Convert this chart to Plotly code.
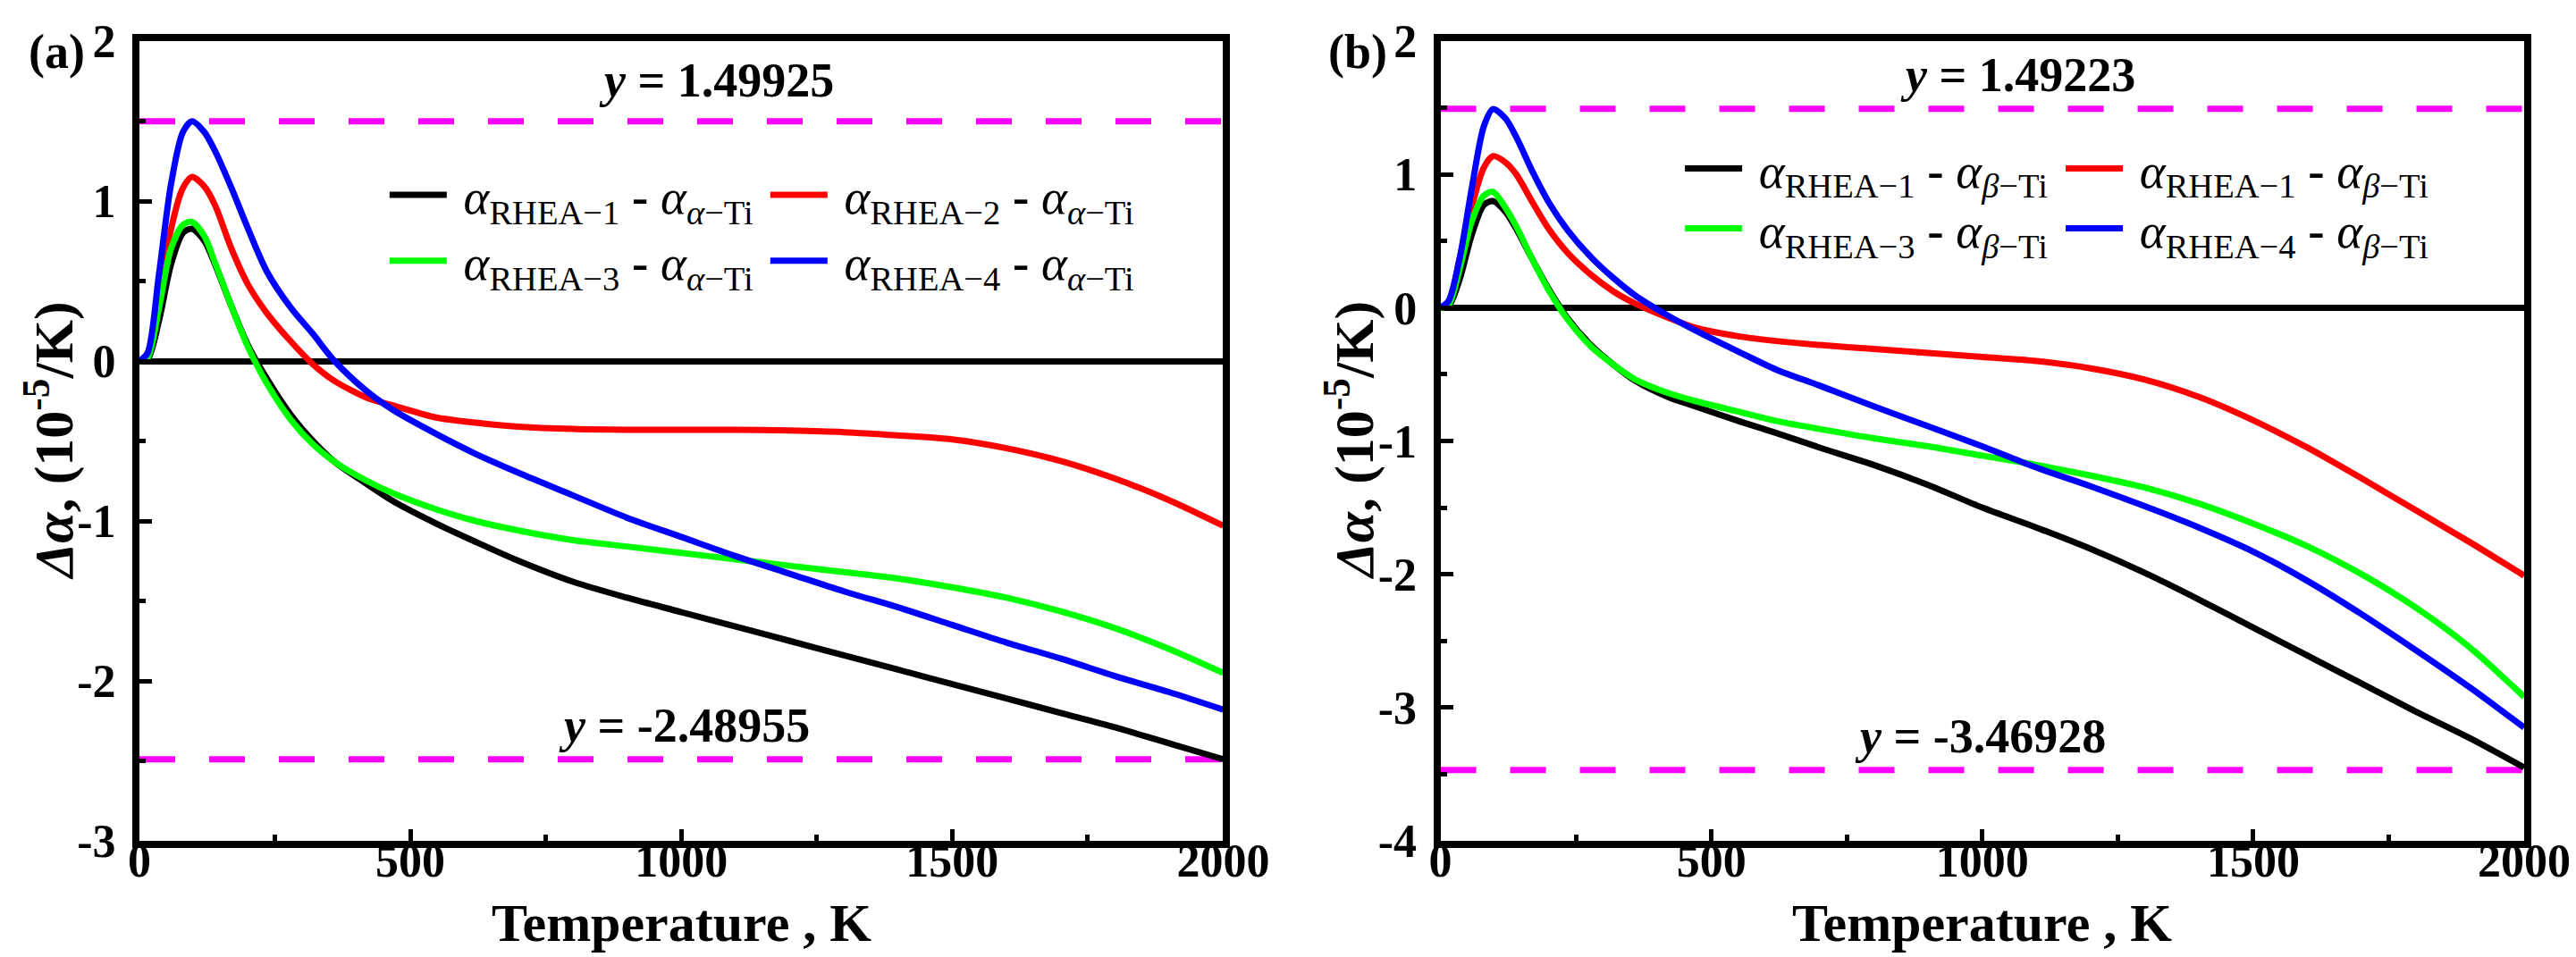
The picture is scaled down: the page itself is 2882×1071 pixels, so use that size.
import plotly.graph_objects as go
from plotly.subplots import make_subplots

# --- data ---
temps = [0, 15, 36, 58, 80, 97, 120, 140, 170, 200, 235, 280, 320, 360, 420, 470,
         550, 620, 700, 800, 900, 1000, 1100, 1200, 1300, 1400, 1500, 1600, 1700, 1800, 1900, 2000]

# panel (a): alpha_RHEA - alpha_(alpha-Ti)
a_rhea1 = [0, 0.01, 0.25, 0.60, 0.80, 0.827, 0.75, 0.60, 0.34, 0.10, -0.11, -0.34, -0.50, -0.63, -0.77, -0.88,
           -1.02, -1.13, -1.25, -1.38, -1.48, -1.57, -1.66, -1.75, -1.84, -1.93, -2.02, -2.11, -2.20, -2.29, -2.39, -2.49]
a_rhea2 = [0, 0.03, 0.38, 0.82, 1.08, 1.151, 1.09, 0.97, 0.70, 0.48, 0.30, 0.12, -0.02, -0.125, -0.23, -0.28,
           -0.355, -0.385, -0.41, -0.425, -0.43, -0.43, -0.43, -0.435, -0.445, -0.465, -0.49, -0.545, -0.625, -0.735, -0.87, -1.03]
a_rhea3 = [0, 0.02, 0.33, 0.70, 0.85, 0.87, 0.78, 0.61, 0.34, 0.09, -0.14, -0.37, -0.52, -0.63, -0.75, -0.83,
           -0.93, -1.00, -1.06, -1.12, -1.16, -1.20, -1.24, -1.28, -1.32, -1.36, -1.415, -1.48, -1.565, -1.67, -1.80, -1.95]
a_rhea4 = [0, 0.05, 0.54, 1.10, 1.43, 1.499, 1.43, 1.31, 1.08, 0.83, 0.56, 0.33, 0.17, 0.0, -0.19, -0.31,
           -0.46, -0.58, -0.70, -0.84, -0.98, -1.10, -1.22, -1.33, -1.44, -1.54, -1.65, -1.76, -1.86, -1.97, -2.07, -2.18]

# panel (b): alpha_RHEA - alpha_(beta-Ti)
b_rhea1 = [0, 0.01, 0.22, 0.55, 0.77, 0.80, 0.72, 0.59, 0.36, 0.14, -0.08, -0.29, -0.43, -0.55, -0.67, -0.74,
           -0.85, -0.94, -1.05, -1.18, -1.33, -1.50, -1.65, -1.81, -1.99, -2.19, -2.40, -2.61, -2.82, -3.03, -3.23, -3.45]
b_rhea2 = [0, 0.03, 0.38, 0.76, 1.05, 1.137, 1.09, 1.0, 0.79, 0.59, 0.41, 0.24, 0.12, 0.03, -0.075, -0.15,
           -0.215, -0.25, -0.28, -0.31, -0.34, -0.37, -0.40, -0.455, -0.54, -0.67, -0.845, -1.05, -1.28, -1.52, -1.76, -2.01]
b_rhea3 = [0, 0.02, 0.30, 0.65, 0.84, 0.87, 0.75, 0.61, 0.36, 0.13, -0.09, -0.30, -0.43, -0.54, -0.64, -0.70,
           -0.78, -0.85, -0.91, -0.98, -1.04, -1.11, -1.18, -1.26, -1.35, -1.47, -1.62, -1.79, -2.00, -2.25, -2.55, -2.92]
b_rhea4 = [0, 0.05, 0.38, 0.90, 1.36, 1.49, 1.42, 1.28, 1.02, 0.79, 0.58, 0.37, 0.22, 0.09, -0.06, -0.17,
           -0.33, -0.465, -0.585, -0.74, -0.89, -1.04, -1.20, -1.34, -1.49, -1.65, -1.83, -2.05, -2.30, -2.57, -2.85, -3.15]

labels_a = [" <i>α</i><sub>RHEA−1</sub> <b>-</b> <i>α</i><sub><i>α</i>−Ti</sub>",
            " <i>α</i><sub>RHEA−2</sub> <b>-</b> <i>α</i><sub><i>α</i>−Ti</sub>",
            " <i>α</i><sub>RHEA−3</sub> <b>-</b> <i>α</i><sub><i>α</i>−Ti</sub>",
            " <i>α</i><sub>RHEA−4</sub> <b>-</b> <i>α</i><sub><i>α</i>−Ti</sub>"]
labels_b = [" <i>α</i><sub>RHEA−1</sub> <b>-</b> <i>α</i><sub><i>β</i>−Ti</sub>",
            " <i>α</i><sub>RHEA−1</sub> <b>-</b> <i>α</i><sub><i>β</i>−Ti</sub>",
            " <i>α</i><sub>RHEA−3</sub> <b>-</b> <i>α</i><sub><i>β</i>−Ti</sub>",
            " <i>α</i><sub>RHEA−4</sub> <b>-</b> <i>α</i><sub><i>β</i>−Ti</sub>"]
colors = ["#000000", "#FF0000", "#00FF00", "#0000FF"]

t_span = [0, 2000]
bounds_a = [1.49925, -2.48955]
bounds_b = [1.49223, -3.46928]
bound_text_x_a = [1064, 1005]
bound_text_x_b = [1065, 996]

yticks_a = [-3, -2, -1, 0, 1, 2]
yticks_b = [-4, -3, -2, -1, 0, 1, 2]
xticks = [0, 500, 1000, 1500, 2000]

FONT = "Liberation Serif"

fig = make_subplots(rows=1, cols=2, horizontal_spacing=0.0911)

# two legends per panel, one per row of the 2x2 legend block
panels = [
    (1, [a_rhea1, a_rhea2, a_rhea3, a_rhea4], labels_a, bounds_a, bound_text_x_a,
     ["legend", "legend", "legend2", "legend2"], [46, 38]),
    (2, [b_rhea1, b_rhea2, b_rhea3, b_rhea4], labels_b, bounds_b, bound_text_x_b,
     ["legend3", "legend3", "legend4", "legend4"], [38, 38]),
]

for col, series, labels, bounds, btx, legs, shifts in panels:
    # dashed magenta limits
    for b in bounds:
        fig.add_trace(go.Scatter(x=t_span, y=[b, b], mode="lines", showlegend=False,
                                 line=dict(color="#FF00FF", width=7, dash="40px,38px")),
                      row=1, col=col)
    for ys, lab, c, leg in zip(series, labels, colors, legs):
        fig.add_trace(go.Scatter(x=temps, y=ys, mode="lines", name=lab, legend=leg,
                                 line=dict(color=c, width=7, shape="spline", smoothing=0.8)),
                      row=1, col=col)
    xr = "x" if col == 1 else "x2"
    yr = "y" if col == 1 else "y2"
    for b, tx, ysh in zip(bounds, btx, shifts):
        fig.add_annotation(x=tx, y=b, xref=xr, yref=yr, yshift=ysh, showarrow=False,
                           text="<i>y</i> = %s" % b, yanchor="middle",
                           font=dict(family=FONT, size=54, color="black", weight="bold"))
    # axis titles
    fig.add_annotation(x=0.5, y=0, xref=xr + " domain", yref=yr + " domain", yshift=-92,
                       showarrow=False, text="Temperature , K", yanchor="middle",
                       font=dict(family=FONT, size=60, color="black", weight="bold"))
    fig.add_annotation(x=0, y=0.5, xref=xr + " domain", yref=yr + " domain", xshift=-101,
                       showarrow=False, text="<i>Δα</i>, (10<sup>-5</sup>/K)", textangle=-90,
                       xanchor="center", yanchor="middle",
                       font=dict(family=FONT, size=62, color="black", weight="bold"))

fig.update_xaxes(range=[0, 2000], tickvals=xticks, ticks="inside", ticklen=13, tickwidth=5,
                 tickcolor="black", showline=True, linewidth=8, linecolor="black", mirror=True,
                 showgrid=False, zeroline=False, ticklabelstandoff=-30,
                 minor=dict(dtick=250, ticks="inside", ticklen=7, tickwidth=5, tickcolor="black"),
                 tickfont=dict(family=FONT, size=52, color="black", weight="bold"))

for col, yt in [(1, yticks_a), (2, yticks_b)]:
    fig.update_yaxes(range=[yt[0], yt[-1]], tickvals=yt, ticktext=[str(v) for v in yt],
                     ticks="inside", ticklen=14, tickwidth=5, tickcolor="black",
                     showline=True, linewidth=8, linecolor="black", mirror=True,
                     showgrid=False, zeroline=True, zerolinecolor="black", zerolinewidth=7,
                     minor=dict(dtick=0.5, ticks="inside", ticklen=7, tickwidth=5, tickcolor="black"),
                     tickfont=dict(family=FONT, size=52, color="black", weight="bold"),
                     ticklabelstandoff=8, row=1, col=col)

for txt, xp in [("(a)", -0.0472), ("(b)", 0.4978)]:
    fig.add_annotation(x=xp, y=0.9866, xref="paper", yref="paper", xanchor="left", yanchor="middle",
                       text=txt, showarrow=False,
                       font=dict(family=FONT, size=54, color="black", weight="bold"))

leg_style = dict(orientation="h", xanchor="left", yanchor="top", bgcolor="rgba(0,0,0,0)",
                 font=dict(family=FONT, size=55, color="black"), itemwidth=64,
                 entrywidth=347, entrywidthmode="pixels")
fig.update_layout(
    width=2882, height=1071,
    margin=dict(l=148, r=66, t=38, b=138, autoexpand=False),
    plot_bgcolor="white", paper_bgcolor="white",
    legend=dict(x=0.103, y=0.855, **leg_style),
    legend2=dict(x=0.103, y=0.7725, **leg_style),
    legend3=dict(x=0.6462, y=0.888, **leg_style),
    legend4=dict(x=0.6462, y=0.813, **leg_style),
)

fig.write_html("out.html")
